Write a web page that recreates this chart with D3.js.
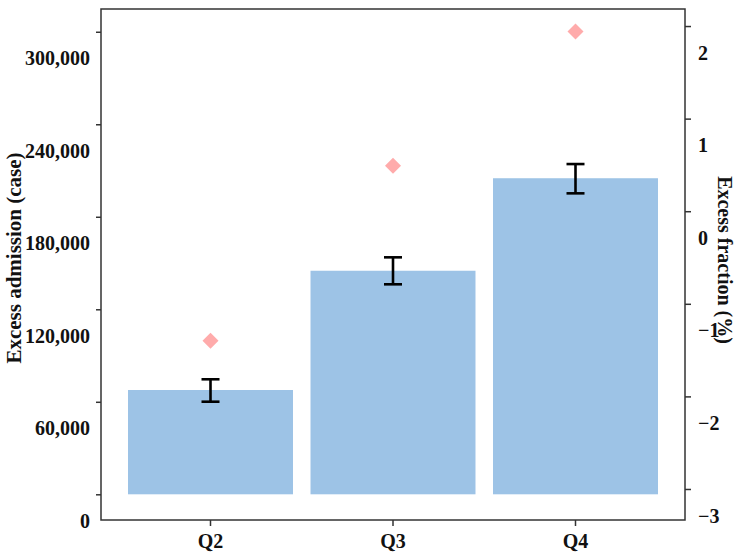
<!DOCTYPE html>
<html lang="en">
<head>
  <meta charset="UTF-8">
  <title>Excess admission by quarter</title>
  <script src="https://cdnjs.cloudflare.com/ajax/libs/d3/7.8.5/d3.min.js"></script>
  <style>
    body { margin: 0; background: #fff; }
    svg text { font-family: "Liberation Serif", "Times New Roman", serif; font-weight: bold; fill: #111; }
    .axis path, .axis line { stroke: #333; stroke-width: 1.5px; }
  </style>
</head>
<body>
  <svg width="738" height="557"></svg>
  <script>
    // 数据
    var quarters = ['Q2', 'Q3', 'Q4']
    var admission = [67650, 145000, 205000]
    var admissionLow = [60060, 136200, 195200]
    var admissionHigh = [74600, 153700, 214200]
    var fraction = [-1.40, 0.49, 1.94]

    var leftTicks = [0, 60000, 120000, 180000, 240000, 300000]
    var rightTicks = [-3, -2, -1, 0, 1, 2]

    var margin = { left: 101, right: 53, top: 9, bottom: 37 }
    var W = 738, H = 557
    var x0 = margin.left, x1 = W - margin.right
    var y0 = H - margin.bottom, y1 = margin.top
    var labelShift = 26.7

    var svg = d3.select('svg')

    var x = d3.scaleBand().domain(quarters).range([x0, x1])
      .paddingInner(0.096).paddingOuter(0.148)
    var yL = d3.scaleLinear().domain([-16669, 314766]).range([y0, y1])
    var yR = d3.scaleLinear().domain([-3.335, 2.184]).range([y0, y1])

    // 柱子
    svg.selectAll('.bar').data(quarters).enter().append('rect')
      .attr('class', 'bar')
      .attr('x', d => x(d))
      .attr('width', x.bandwidth())
      .attr('y', (d, i) => yL(admission[i]))
      .attr('height', (d, i) => yL(0) - yL(admission[i]))
      .attr('fill', '#9dc3e6')

    // 误差线
    var cap = 9
    var eb = svg.selectAll('.err').data(quarters).enter().append('g')
      .attr('class', 'err')
      .attr('stroke', '#000').attr('stroke-width', 2.6)
    eb.append('line')
      .attr('x1', d => x(d) + x.bandwidth() / 2).attr('x2', d => x(d) + x.bandwidth() / 2)
      .attr('y1', (d, i) => yL(admissionLow[i])).attr('y2', (d, i) => yL(admissionHigh[i]))
    eb.append('line')
      .attr('x1', d => x(d) + x.bandwidth() / 2 - cap).attr('x2', d => x(d) + x.bandwidth() / 2 + cap)
      .attr('y1', (d, i) => yL(admissionLow[i])).attr('y2', (d, i) => yL(admissionLow[i]))
    eb.append('line')
      .attr('x1', d => x(d) + x.bandwidth() / 2 - cap).attr('x2', d => x(d) + x.bandwidth() / 2 + cap)
      .attr('y1', (d, i) => yL(admissionHigh[i])).attr('y2', (d, i) => yL(admissionHigh[i]))

    // 菱形点
    svg.selectAll('.dia').data(quarters).enter().append('path')
      .attr('class', 'dia')
      .attr('d', d3.symbol().type(d3.symbolSquare).size(128))
      .attr('transform', (d, i) => 'translate(' + (x(d) + x.bandwidth() / 2) + ',' + yR(fraction[i]) + ') rotate(45)')
      .attr('fill', '#ffabab')

    // 坐标轴
    var gL = svg.append('g').attr('class', 'axis').attr('transform', 'translate(' + x0 + ',0)')
      .call(d3.axisLeft(yL).tickValues(leftTicks).tickFormat(d3.format(',')).tickSize(5).tickPadding(6))
    var gR = svg.append('g').attr('class', 'axis').attr('transform', 'translate(' + x1 + ',0)')
      .call(d3.axisRight(yR).tickValues(rightTicks).tickFormat(d3.format('d')).tickSize(6).tickPadding(7))
    var gB = svg.append('g').attr('class', 'axis').attr('transform', 'translate(0,' + y0 + ')')
      .call(d3.axisBottom(x).tickSize(6).tickPadding(8))
    gL.select('.domain').remove()
    gR.select('.domain').remove()
    gB.select('.domain').remove()

    // 刻度文字下移
    gL.selectAll('text').attr('transform', 'translate(0,' + labelShift + ')')
    gR.selectAll('text').attr('transform', 'translate(0,' + labelShift + ')')
    svg.selectAll('.axis text').style('font-size', '20px').attr('fill', '#111')

    // 外框
    svg.append('rect')
      .attr('x', x0).attr('y', y1).attr('width', x1 - x0).attr('height', y0 - y1)
      .attr('fill', 'none').attr('stroke', '#333').attr('stroke-width', 1.5)

    // 轴标题
    svg.append('text')
      .attr('transform', 'translate(21,' + 258 + ') rotate(-90)')
      .attr('text-anchor', 'middle')
      .style('font-size', '21px')
      .text('Excess admission (case)')
    svg.append('text')
      .attr('transform', 'translate(718,' + 260 + ') rotate(90)')
      .attr('text-anchor', 'middle')
      .style('font-size', '20px')
      .text('Excess fraction (%)')
  </script>
</body>
</html>
